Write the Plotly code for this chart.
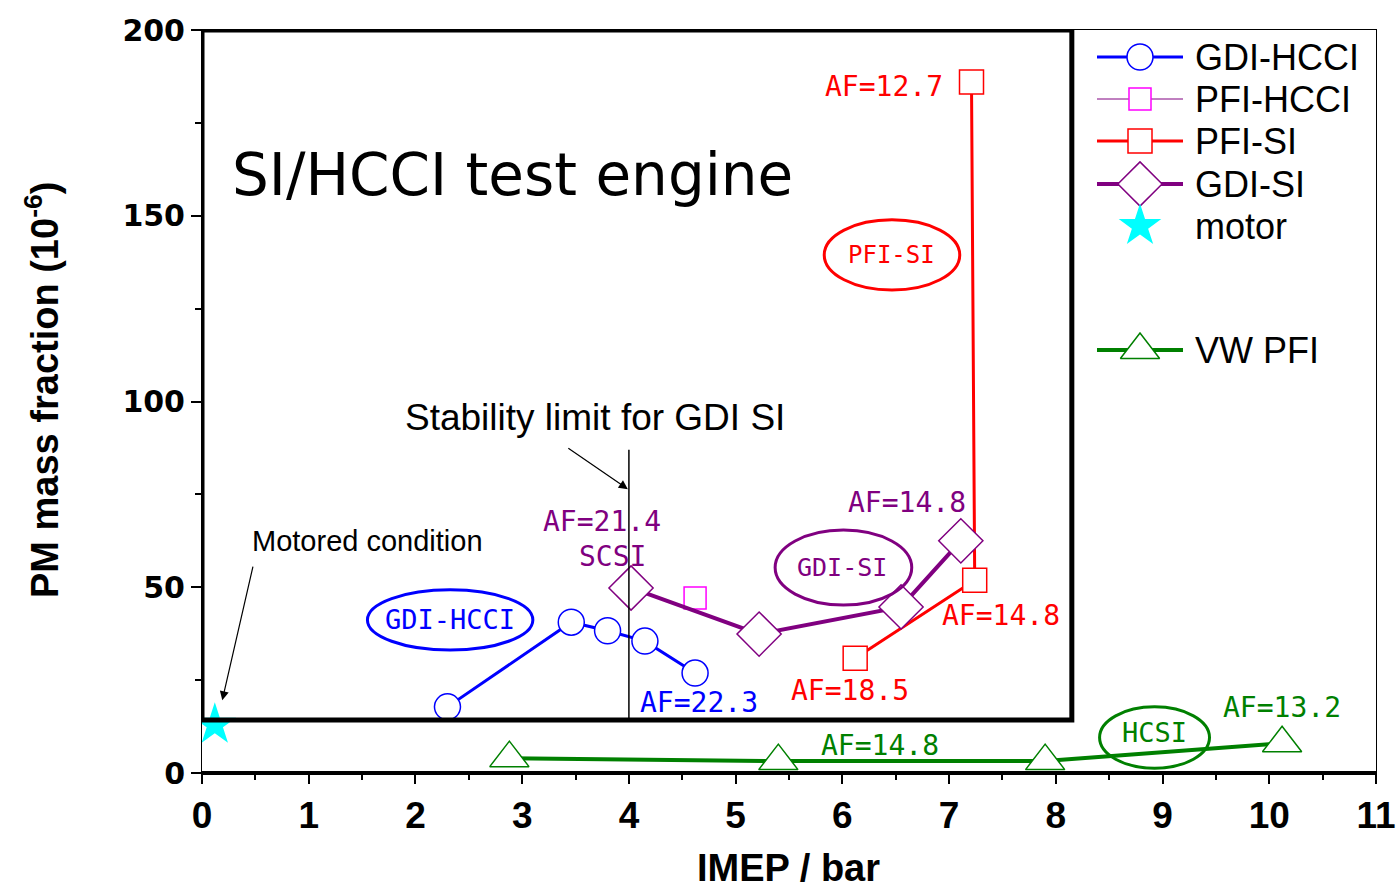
import plotly.graph_objects as go

# ---- data ----
gdi_hcci_x = [2.30, 3.46, 3.80, 4.15, 4.62]
gdi_hcci_y = [17.8, 40.6, 38.3, 35.5, 26.9]

pfi_hcci_x = [4.62]
pfi_hcci_y = [47.1]

pfi_si_x = [6.12, 7.24, 7.21]
pfi_si_y = [30.9, 51.9, 186.0]

gdi_si_x = [4.02, 5.22, 6.55, 7.11]
gdi_si_y = [49.8, 37.4, 44.7, 62.5]

motor_x = [0.12]
motor_y = [13.0]

vw_pfi_x = [2.88, 5.40, 7.90, 10.12]
vw_pfi_y = [4.0, 3.2, 3.2, 8.0]

x_ticks = list(range(0, 12))
y_ticks = [0, 50, 100, 150, 200]

legend_names = ["GDI-HCCI", "PFI-HCCI", "PFI-SI", "GDI-SI", "motor", "VW PFI"]

BLUE = "#0000FF"; MAG = "#FF00FF"; RED = "#FF0000"; PURP = "#800080"
CYAN = "#00FFFF"; GREEN = "#008000"

styles = {
    "GDI-HCCI": dict(lc=BLUE, lw=3, sym="circle", ms=26, mc=BLUE),
    "PFI-HCCI": dict(lc=PURP, lw=1, sym="square", ms=22, mc=MAG),
    "PFI-SI":   dict(lc=RED, lw=3, sym="square", ms=24, mc=RED),
    "GDI-SI":   dict(lc=PURP, lw=4, sym="diamond", ms=34, mc=PURP),
    "motor":    dict(lc=None, lw=0, sym="star", ms=32, mc=CYAN),
    "VW PFI":   dict(lc=GREEN, lw=4, sym="triangle-up", ms=34, mc=GREEN),
}

fig = go.Figure()

def add_series(x, y, name):
    s = styles[name]
    if s["sym"] == "star":
        fig.add_trace(go.Scatter(x=x, y=y, mode="markers", name=name, showlegend=False,
                                 marker=dict(symbol="star", size=s["ms"], color=s["mc"],
                                             line=dict(width=0))))
    else:
        fig.add_trace(go.Scatter(x=x, y=y, mode="lines+markers", name=name, showlegend=False,
                                 line=dict(color=s["lc"], width=s["lw"]),
                                 marker=dict(symbol=s["sym"], size=s["ms"], color="white",
                                             line=dict(color=s["mc"], width=1.5))))

add_series(motor_x, motor_y, "motor")
add_series(gdi_hcci_x, gdi_hcci_y, "GDI-HCCI")
add_series(pfi_hcci_x, pfi_hcci_y, "PFI-HCCI")
add_series(pfi_si_x, pfi_si_y, "PFI-SI")
add_series(gdi_si_x, gdi_si_y, "GDI-SI")
add_series(vw_pfi_x, vw_pfi_y, "VW PFI")

# ---- manual legend (drawn on an overlay axis in paper-like units) ----
W_PLOT = 1174.0
H_PLOT = 743.0
def px(p):
    return (p - 202) / W_PLOT
def py(p):
    return (773 - p) / H_PLOT

legend_rows = [57, 99, 141, 184, 226, 350]
legend_annots = []
for name, row in zip(legend_names, legend_rows):
    s = styles[name]
    yy = py(row)
    if s["lc"] is not None:
        fig.add_trace(go.Scatter(x=[px(1097), px(1183)], y=[yy, yy], mode="lines",
                                 xaxis="x2", yaxis="y2", showlegend=False, hoverinfo="skip",
                                 line=dict(color=s["lc"], width=s["lw"])))
    if s["sym"] == "star":
        mk = dict(symbol="star", size=s["ms"], color=s["mc"], line=dict(width=0))
    else:
        mk = dict(symbol=s["sym"], size=s["ms"], color="white",
                  line=dict(color=s["mc"], width=1.5))
    fig.add_trace(go.Scatter(x=[px(1140)], y=[yy], mode="markers", xaxis="x2", yaxis="y2",
                             showlegend=False, hoverinfo="skip", marker=mk))
    legend_annots.append(dict(xref="x2", yref="y2", x=px(1193), y=yy, text=name,
                              showarrow=False, xanchor="left", yanchor="middle",
                              font=dict(family="Liberation Sans, Arial", size=36,
                                        color="black")))

label_font = "DejaVu Sans Mono"

shapes = [
    dict(type="line", xref="paper", yref="paper", x0=0, x1=1, y0=0, y1=0,
         line=dict(color="black", width=4), layer="above"),
    dict(type="rect", x0=0, x1=8.15, y0=14.3, y1=200, line=dict(color="black", width=5),
         layer="above"),
    dict(type="line", x0=4, x1=4, y0=14.3, y1=87, line=dict(color="black", width=1.5),
         layer="above"),
    dict(type="circle", x0=1.55, x1=3.10, y0=33.1, y1=49.3, line=dict(color=BLUE, width=3)),
    dict(type="circle", x0=5.37, x1=6.65, y0=45.2, y1=65.4, line=dict(color=PURP, width=3)),
    dict(type="circle", x0=5.83, x1=7.10, y0=130.0, y1=148.9, line=dict(color=RED, width=3)),
    dict(type="circle", x0=8.41, x1=9.44, y0=1.3, y1=17.8, line=dict(color=GREEN, width=3)),
]

def lab(x, y, text, color, size=28, family=label_font):
    return dict(x=x, y=y, text=text, showarrow=False, xref="x", yref="y",
                font=dict(family=family, size=size, color=color))

annotations = [
    lab(6.39, 184.9, "AF=12.7", RED),
    lab(7.49, 42.3, "AF=14.8", RED),
    lab(6.07, 22.3, "AF=18.5", RED),
    lab(4.66, 19.1, "AF=22.3", BLUE),
    lab(3.75, 67.6, "AF=21.4", PURP),
    lab(3.85, 58.4, "SCSI", PURP),
    lab(6.61, 72.9, "AF=14.8", PURP),
    lab(6.35, 7.5, "AF=14.8", GREEN),
    lab(10.12, 17.5, "AF=13.2", GREEN),
    lab(2.32, 41.2, "GDI-HCCI", BLUE, 27),
    lab(6.0, 55.2, "GDI-SI", PURP, 25),
    lab(6.46, 139.4, "PFI-SI", RED, 24),
    lab(8.92, 10.8, "HCSI", GREEN, 27),
    dict(x=2.91, y=161, text="SI/HCCI test engine", showarrow=False,
         font=dict(family="DejaVu Sans", size=58, color="black")),
    dict(x=3.68, y=95.6, text="Stability limit for GDI SI", showarrow=False,
         font=dict(family="Liberation Sans, Arial", size=37, color="black")),
    dict(x=3.99, y=76.4, ax=-61, ay=-42, text="", showarrow=True, arrowhead=2,
         arrowsize=1.5, arrowwidth=1.2, arrowcolor="black"),
    dict(x=1.55, y=62.5, text="Motored condition", showarrow=False,
         font=dict(family="Liberation Sans, Arial", size=29, color="black")),
    dict(x=0.19, y=19.6, ax=31, ay=-135, text="", showarrow=True, arrowhead=2,
         arrowsize=1.5, arrowwidth=1.2, arrowcolor="black"),
    dict(xref="paper", yref="paper", x=px(42), y=py(390), textangle=-90, showarrow=False,
         xanchor="center", yanchor="middle",
         text="PM mass fraction (10<sup>-6</sup>)",
         font=dict(family="Liberation Sans, Arial", size=38, color="black", weight="bold")),
    dict(xref="paper", yref="paper", x=px(788), y=py(868), showarrow=False, text="IMEP / bar",
         xanchor="center", yanchor="middle",
         font=dict(family="Liberation Sans, Arial", size=38, color="black", weight="bold")),
] + legend_annots

fig.update_layout(
    width=1397, height=895,
    margin=dict(l=202, r=21, t=30, b=122),
    plot_bgcolor="white", paper_bgcolor="white",
    shapes=shapes, annotations=annotations,
    showlegend=False,
    xaxis=dict(range=[0, 11], tickvals=x_ticks, ticktext=[str(v) for v in x_ticks],
               automargin=False,
               ticks="outside", ticklen=10, tickwidth=2, tickcolor="black",
               showline=True, linecolor="black", linewidth=1, mirror=True,
               showgrid=False, zeroline=False,
               minor=dict(dtick=0.5, ticks="outside", ticklen=6, tickcolor="black", tickwidth=1.5),
               tickfont=dict(family="Liberation Sans, Arial", size=37,
                             color="black", weight="bold")),
    yaxis=dict(range=[0, 200], tickvals=y_ticks, ticktext=[str(v) for v in y_ticks],
               automargin=False,
               ticks="outside", ticklen=10, tickwidth=1.5, tickcolor="black",
               showline=True, linecolor="black", linewidth=1, mirror=True,
               showgrid=False, zeroline=False,
               minor=dict(dtick=25, ticks="outside", ticklen=6, tickcolor="black", tickwidth=1.5),
               tickfont=dict(family="DejaVu Sans", size=30, color="black", weight="bold")),
    xaxis2=dict(overlaying="x", range=[0, 1], visible=False, automargin=False, fixedrange=True),
    yaxis2=dict(overlaying="y", range=[0, 1], visible=False, automargin=False, fixedrange=True),
)

fig.write_html("out.html")
